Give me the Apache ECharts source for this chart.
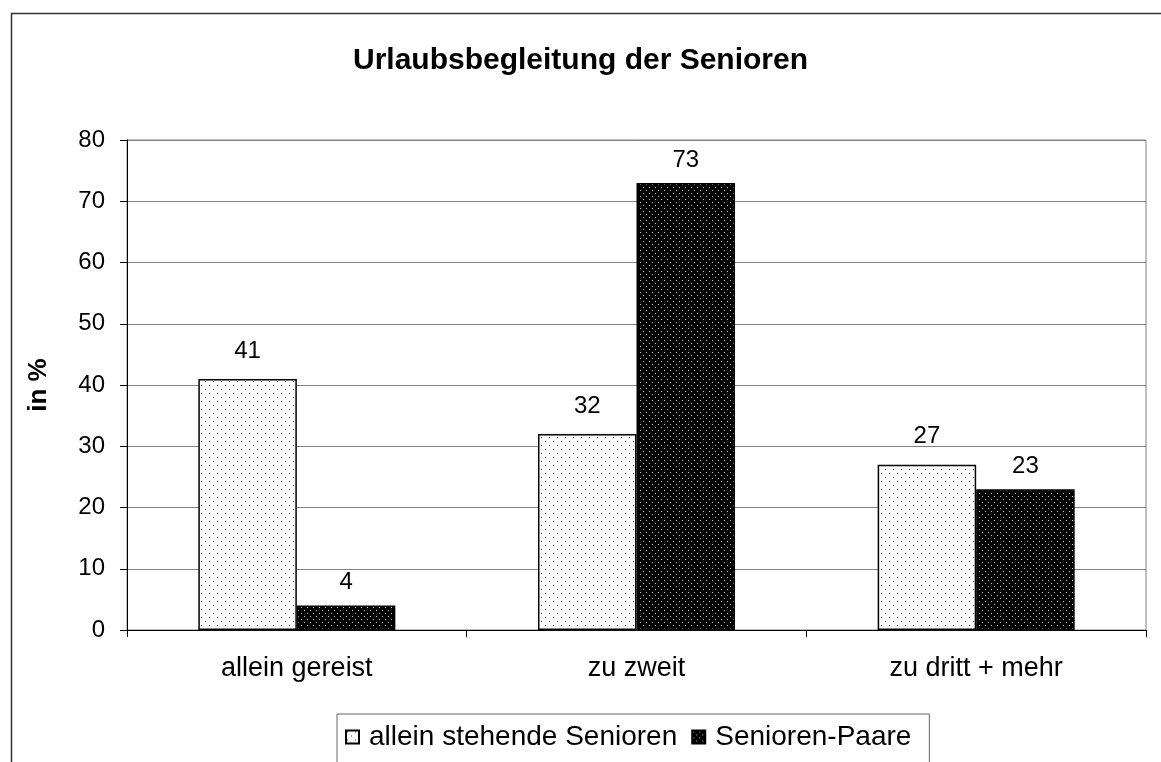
<!DOCTYPE html>
<html>
<head>
<meta charset="utf-8">
<script src="https://cdn.jsdelivr.net/npm/echarts@6/dist/echarts.min.js"></script>
<style>html,body{margin:0;padding:0;background:#fff}#c{width:1161px;height:762px}</style>
</head>
<body>
<div id="c"></div>
<script>
const categories = ['allein gereist', 'zu zweit', 'zu dritt + mehr'];
const seriesNames = ['allein stehende Senioren', 'Senioren-Paare'];
const allein = [41, 32, 27];
const paare = [4, 73, 23];
const yTicks = [0, 10, 20, 30, 40, 50, 60, 70, 80];

function makeTile(w, h, bg, dot, dots) {
  const c = document.createElement('canvas');
  c.width = w; c.height = h;
  const g = c.getContext('2d');
  g.fillStyle = bg; g.fillRect(0, 0, w, h);
  g.fillStyle = dot;
  dots.forEach(d => g.fillRect(d[0], d[1], 1, 1));
  return c;
}
const lightPat = {image: makeTile(8, 8, '#ffffff', '#444444', [[1,1],[5,5]]), repeat: 'repeat'};
const darkPat = {image: makeTile(6, 6, '#000000', '#c8c8c8', [[1,1],[4,4]]), repeat: 'repeat'};

const chart = echarts.init(document.getElementById('c'), null, {renderer: 'canvas'});
const font = "'Liberation Sans', Arial, sans-serif";
chart.setOption({
  animation: false,
  backgroundColor: '#fff',
  title: {
    text: 'Urlaubsbegleitung der Senioren',
    left: 'center', top: 41,
    textStyle: {fontFamily: font, fontSize: 30, fontWeight: 'bold', color: '#000'}
  },
  graphic: [{
    type: 'rect', left: 9, top: 11, z: -1,
    shape: {width: 1200, height: 800},
    style: {fill: 'none', stroke: '#333', lineWidth: 1.5}
  }],
  legend: {
    left: 337, top: 714,
    padding: [9, 18, 20, 8],
    itemWidth: 13, itemHeight: 13, itemGap: 14,
    borderColor: '#666', borderWidth: 1,
    icon: 'rect',
    textStyle: {fontFamily: font, fontSize: 28, color: '#000', padding: [0, 0, 0, 5]},
    data: seriesNames
  },
  grid: {
    left: 127, right: 15, top: 140, bottom: 132,
    show: true, borderColor: '#808080', borderWidth: 1
  },
  xAxis: {
    type: 'category', data: categories,
    axisLine: {lineStyle: {color: '#000', width: 1}},
    axisTick: {show: true, length: 7, alignWithLabel: false, lineStyle: {color: '#000'}},
    axisLabel: {fontFamily: font, fontSize: 27, color: '#000', margin: 25}
  },
  yAxis: {
    type: 'value', min: 0, max: 80, interval: 10,
    name: 'in %', nameLocation: 'middle', nameGap: 75, nameRotate: 90,
    nameTextStyle: {fontFamily: font, fontSize: 26, fontWeight: 'bold', color: '#000'},
    axisLine: {show: true, lineStyle: {color: '#000', width: 1}},
    axisTick: {show: true, length: 7, lineStyle: {color: '#000'}},
    axisLabel: {fontFamily: font, fontSize: 24, color: '#000', margin: 22,
      formatter: v => yTicks.includes(v) ? String(v) : ''},
    splitLine: {show: true, lineStyle: {color: '#808080', width: 1}}
  },
  series: [
    {
      name: seriesNames[0], type: 'bar', data: allein,
      barGap: '0%', barCategoryGap: '42%',
      itemStyle: {color: lightPat, borderColor: '#000', borderWidth: 1.5},
      label: {show: true, position: 'top', distance: 16, fontFamily: font, fontSize: 24, color: '#000'}
    },
    {
      name: seriesNames[1], type: 'bar', data: paare,
      barGap: '0%', barCategoryGap: '42%',
      itemStyle: {color: darkPat, borderColor: '#000', borderWidth: 1.5},
      label: {show: true, position: 'top', distance: 11, fontFamily: font, fontSize: 24, color: '#000'}
    }
  ]
});
</script>
</body>
</html>
